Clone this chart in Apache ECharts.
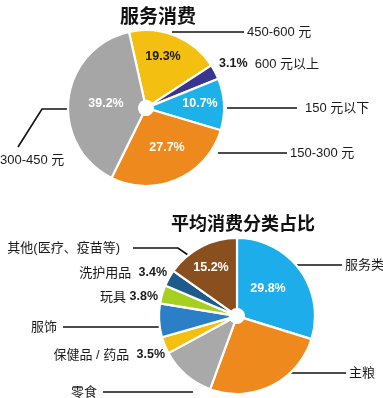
<!DOCTYPE html>
<html><head><meta charset="utf-8">
<script src="https://cdn.jsdelivr.net/npm/echarts@6/dist/echarts.min.js"></script>
<style>html,body{margin:0;padding:0;background:#fff}#c{width:383px;height:398px}</style>
</head><body><div id="c"></div>
<script>
// ---- data ----
const topTitle = '服务消费';
const topNames = ['450-600 元', '600 元以上', '150 元以下', '150-300 元', '300-450 元'];
const topValues = [19.3, 3.1, 10.7, 27.7, 39.2];

const bottomTitle = '平均消费分类占比';
const bottomNames = ['服务类', '主粮', '零食', '保健品 / 药品', '服饰', '玩具', '洗护用品', '其他(医疗、疫苗等)'];
const bottomValues = [29.8, 25.8, 11.5, 3.5, 7.0, 3.8, 3.4, 15.2];

// ---- styles / layout ----
const FONT = '"Liberation Sans", "Noto Sans CJK SC", sans-serif';
const topColors = ['#f3c012', '#38368f', '#1cb1e9', '#ee8a1d', '#a6a6a6'];
const bottomColors = ['#1dadea', '#ee8a1d', '#a9a9a9', '#f3c012', '#2b7fc6', '#a6cf1f', '#1f5b8a', '#8a4f1e'];

const topCenter = [146, 108], topRadius = [7, 78];
const botCenter = [237, 316], botRadius = [7, 78];

// inner percentage labels (null = not shown)
const topInner = [
  {x: 163, y: 57, color: '#1a1a1a'}, null,
  {x: 200, y: 104, color: '#fff'}, {x: 167, y: 148, color: '#fff'}, {x: 106, y: 104, color: '#fff'}
];
const botInner = [
  {x: 268, y: 289, color: '#fff'}, null, null, null, null, null, null,
  {x: 211, y: 268, color: '#fff'}
];
// outer labels: anchor, alignment, whether percentage is shown, leader line offsets from anchor
const topOuter = [
  {x: 247, y: 32, align: 'left', pct: false, line: [[-3, 0], [-75, 0]]},
  {x: 219, y: 64, align: 'left', pct: 'before', line: null},
  {x: 305, y: 108, align: 'left', pct: false, line: [[-8, 0], [-78, 0]]},
  {x: 290, y: 153, align: 'left', pct: false, line: [[-3, 0], [-72, 0]]},
  {x: 0, y: 160, align: 'left', pct: false, line: [[18, -13], [42, -51], [68, -51]]}
];
const botOuter = [
  {x: 345, y: 265, align: 'left', pct: false, line: [[-3, 0], [-48, 0]]},
  {x: 349, y: 373, align: 'left', pct: false, line: [[-3, 0], [-61, 0]]},
  {x: 97, y: 392, align: 'right', pct: false, line: [[6, 0], [96, 0]]},
  {x: 165, y: 355, align: 'right', pct: 'after', line: null},
  {x: 57, y: 327, align: 'right', pct: false, line: [[6, 0], [103, 0]]},
  {x: 158, y: 297, align: 'right', pct: 'after1', line: null},
  {x: 167, y: 273, align: 'right', pct: 'after', line: null},
  {x: 120, y: 248, align: 'right', pct: false, line: [[13, 0], [58, 0], [68, 7]]}
];

function pct(v) { return v.toFixed(1) + '%'; }

function innerSeries(names, values, colors, center, radius, startAngle, inner) {
  return {
    type: 'pie', center: center, radius: radius, startAngle: startAngle, clockwise: true,
    avoidLabelOverlap: false, silent: true, animation: false,
    itemStyle: {borderColor: '#fff', borderWidth: 2.2},
    emphasis: {disabled: true},
    label: {
      show: true, position: 'inside', fontFamily: FONT, fontSize: 12.5, fontWeight: 'bold',
      formatter: p => inner[p.dataIndex] ? pct(p.value) : ''
    },
    labelLine: {show: false},
    labelLayout: p => {
      const c = inner[p.dataIndex];
      if (!c) return {};
      return {x: c.x, y: c.y, align: 'center', verticalAlign: 'middle'};
    },
    data: names.map((n, i) => ({
      name: n, value: values[i],
      itemStyle: {color: colors[i]},
      label: {color: inner[i] ? inner[i].color : '#fff'}
    }))
  };
}

function outerSeries(names, values, center, radius, startAngle, outer) {
  return {
    type: 'pie', center: center, radius: radius, startAngle: startAngle, clockwise: true,
    avoidLabelOverlap: false, silent: true, animation: false,
    itemStyle: {color: 'rgba(0,0,0,0)', borderWidth: 0},
    emphasis: {disabled: true},
    label: {
      show: true, position: 'outside', fontFamily: FONT, fontSize: 13, color: '#1a1a1a',
      rich: {b: {fontFamily: FONT, fontSize: 12.5, fontWeight: 'bold', color: '#1a1a1a'}},
      formatter: p => {
        const o = outer[p.dataIndex];
        if (o.pct === 'before') return '{b|' + pct(p.value) + '}  ' + p.name;
        if (o.pct === 'after') return p.name + '  {b|' + pct(p.value) + '}';
        if (o.pct === 'after1') return p.name + ' {b|' + pct(p.value) + '}';
        return p.name;
      }
    },
    labelLine: {show: true, lineStyle: {color: '#111', width: 1.6}},
    labelLayout: p => {
      const o = outer[p.dataIndex];
      const r = {x: o.x, y: o.y, align: o.align, verticalAlign: 'middle'};
      if (o.line) r.labelLinePoints = o.line.map(d => [o.x + d[0], o.y + d[1]]);
      return r;
    },
    data: names.map((n, i) => ({
      name: n, value: values[i],
      labelLine: {show: !!outer[i].line}
    }))
  };
}

const chart = echarts.init(document.getElementById('c'), null, {renderer: 'canvas', width: 383, height: 398});
chart.setOption({
  backgroundColor: '#fff',
  animation: false,
  title: [
    {text: topTitle, left: 153, top: 1, textAlign: 'center',
     textStyle: {fontFamily: '"Noto Sans CJK SC", sans-serif', fontSize: 19, fontWeight: 'bold', color: '#111'}},
    {text: bottomTitle, left: 238, top: 209, textAlign: 'center',
     textStyle: {fontFamily: '"Noto Sans CJK SC", sans-serif', fontSize: 18, fontWeight: 'bold', color: '#111'}}
  ],
  series: [
    innerSeries(topNames, topValues, topColors, topCenter, topRadius, 102.6, topInner),
    outerSeries(topNames, topValues, topCenter, topRadius, 102.6, topOuter),
    innerSeries(bottomNames, bottomValues, bottomColors, botCenter, botRadius, 90, botInner),
    outerSeries(bottomNames, bottomValues, botCenter, botRadius, 90, botOuter)
  ]
});
</script>
</body></html>
